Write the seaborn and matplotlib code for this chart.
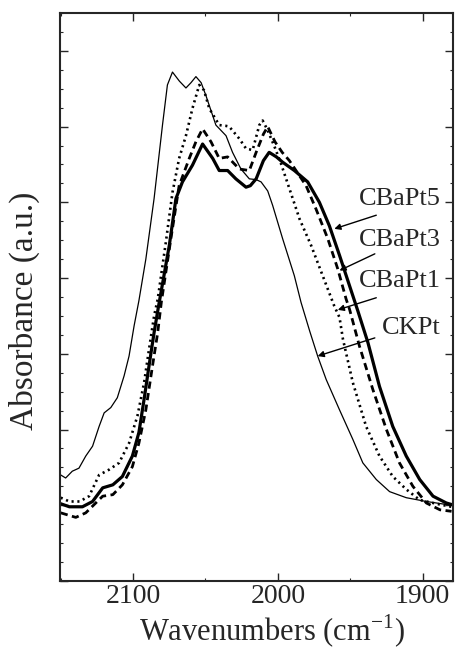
import numpy as np
import pandas as pd
import matplotlib
matplotlib.use("Agg")
import matplotlib.pyplot as plt
from matplotlib.ticker import MultipleLocator, NullFormatter
import seaborn as sns

# CKPt (thin solid)
ckpt_wn = [2150, 2146.6, 2142, 2137.4, 2132.7, 2128, 2123.5, 2120, 2115.4, 2110.9,
           2106.2, 2102.8, 2099.3, 2096, 2091.2, 2085.5, 2079.7, 2076.3, 2072.8, 2068,
           2063.5, 2060, 2056.6, 2053, 2049.7, 2042.8, 2035.8, 2031.3, 2025.5, 2019.7,
           2015, 2011.6, 2007, 2003.6, 1996.7, 1988.6, 1984, 1978, 1972.5, 1966.6,
           1957.4, 1948.2, 1941.3, 1932, 1922.8, 1911.3, 1897.4, 1880]
ckpt_abs = [1.40, 1.36, 1.45, 1.49, 1.65, 1.78, 2.04, 2.22, 2.29, 2.42,
            2.71, 2.97, 3.37, 3.70, 4.25, 5.05, 6.02, 6.55, 6.72, 6.60,
            6.51, 6.58, 6.66, 6.58, 6.41, 6.02, 5.88, 5.66, 5.44, 5.31,
            5.30, 5.27, 5.15, 4.96, 4.52, 4.03, 3.68, 3.30, 2.97, 2.66,
            2.26, 1.87, 1.56, 1.34, 1.18, 1.10, 1.05, 1.00]

# CBaPt1 (dotted)
bapt1_wn = [2150, 2144, 2137, 2130.4, 2123.5, 2116.6, 2109.7, 2102.8, 2097, 2092.4,
            2089, 2085.5, 2083, 2077.4, 2072.8, 2068.2, 2063.5, 2059, 2054.3, 2051,
            2047.4, 2040.5, 2036, 2033.6, 2026.6, 2022, 2017.4, 2012.8, 2010.5, 2007,
            2002, 1997.8, 1992, 1985, 1977, 1969, 1961, 1957.4, 1955, 1948.2,
            1939, 1929.8, 1920.6, 1911.3, 1902, 1888, 1880]
bapt1_abs = [1.10, 1.05, 1.05, 1.12, 1.40, 1.47, 1.56, 1.82, 2.18, 2.62,
             3.06, 3.50, 3.72, 4.47, 5.13, 5.58, 5.88, 6.24, 6.55, 6.48,
             6.24, 6.02, 6.01, 6.00, 5.84, 5.71, 5.69, 6.02, 6.08, 5.95,
             5.72, 5.51, 5.18, 4.78, 4.43, 4.03, 3.63, 3.48, 3.19, 2.62,
             2.04, 1.65, 1.38, 1.21, 1.07, 1.01, 0.98]

# CBaPt3 (dashed)
bapt3_wn = [2150, 2139.6, 2132.7, 2125.8, 2121, 2114, 2107.4, 2100.5, 2096, 2091.2,
            2086.6, 2083, 2080.5, 2073.9, 2068.2, 2061.2, 2056.6, 2052, 2046.2, 2040.5,
            2034.7, 2026.6, 2019.7, 2015, 2010, 2007, 2002, 1997, 1992, 1980.5,
            1973.6, 1965.5, 1958.6, 1952.8, 1950.5, 1943.6, 1934.4, 1925, 1916, 1906.7,
            1897.4, 1888, 1880]
bapt3_abs = [0.90, 0.84, 0.90, 1.03, 1.12, 1.14, 1.27, 1.51, 1.82, 2.26,
             2.84, 3.28, 3.68, 4.52, 5.22, 5.58, 5.80, 5.97, 5.80, 5.58,
             5.60, 5.44, 5.42, 5.66, 5.90, 6.00, 5.80, 5.66, 5.55, 5.22,
             4.91, 4.52, 4.12, 3.72, 3.59, 3.10, 2.53, 2.00, 1.56, 1.25,
             1.03, 0.94, 0.92]

# CBaPt5 (thick solid)
bapt5_wn = [2150, 2144, 2135, 2128, 2121, 2114, 2107.4, 2100.5, 2096, 2092.4,
            2089, 2085.5, 2082.5, 2075, 2070.4, 2065.9, 2059, 2052, 2045, 2040.5,
            2034.7, 2029, 2022, 2019, 2015, 2010, 2006, 2001, 1996.7, 1988.6,
            1979.4, 1971.3, 1964.4, 1957.4, 1950.5, 1944.8, 1937.8, 1929.8, 1920.6, 1911.3,
            1902, 1892.8, 1883.6, 1880]
bapt5_abs = [1.02, 0.98, 0.98, 1.05, 1.23, 1.27, 1.38, 1.65, 1.96, 2.40,
             2.84, 3.28, 3.62, 4.43, 5.05, 5.27, 5.49, 5.77, 5.58, 5.42,
             5.42, 5.31, 5.20, 5.22, 5.31, 5.55, 5.66, 5.60, 5.53, 5.42,
             5.27, 5.00, 4.69, 4.30, 3.90, 3.57, 3.15, 2.57, 2.04, 1.65,
             1.34, 1.12, 1.03, 1.01]

labels = ["CBaPt5", "CBaPt3", "CBaPt1", "CKPt"]
label_y = [5.05, 4.50, 3.96, 3.34]

sns.set_style("ticks")
plt.rcParams["font.family"] = ["Liberation Serif", "DejaVu Serif"]
plt.rcParams["mathtext.fontset"] = "custom"
plt.rcParams["mathtext.rm"] = "Liberation Serif"

fig = plt.figure(figsize=(4.55, 6.5), dpi=100)
ax = fig.add_axes([60 / 455, 1 - 581 / 650, 393 / 455, 568 / 650])

sns.lineplot(x=ckpt_wn, y=ckpt_abs, ax=ax, color="black", lw=0.9, sort=False)
sns.lineplot(x=bapt1_wn, y=bapt1_abs, ax=ax, color="black", lw=1.9,
             linestyle=(0, (0.8, 1.4)), sort=False)
sns.lineplot(x=bapt3_wn, y=bapt3_abs, ax=ax, color="black", lw=2.0,
             linestyle=(0, (2.6, 1.6)), sort=False)
sns.lineplot(x=bapt5_wn, y=bapt5_abs, ax=ax, color="black", lw=2.3, sort=False)

ax.set_xlim(2150.5, 1879)
ax.set_ylim(0, 7.5)

# labels with arrows pointing to the curves
arrows = [((1932, 4.83), (1961, 4.65)),
          ((1933, 4.32), (1957.4, 4.10)),
          ((1932, 3.74), (1958.6, 3.58)),
          ((1933, 3.21), (1972.5, 2.97))]
for lab, ly, (tail, head) in zip(labels, label_y, arrows):
    ax.text(1887.5, ly, lab, ha="right", va="center", fontsize=19)
    ax.annotate("", xy=head, xytext=tail,
                arrowprops=dict(arrowstyle="-|>", color="black", lw=1.0,
                                mutation_scale=9, shrinkA=0, shrinkB=0))

ax.xaxis.set_major_locator(MultipleLocator(100))
ax.xaxis.set_minor_locator(MultipleLocator(50))
ax.yaxis.set_major_locator(MultipleLocator(1))
ax.yaxis.set_minor_locator(MultipleLocator(0.25))
ax.yaxis.set_major_formatter(NullFormatter())
ax.tick_params(which="major", direction="in", length=6, width=1.0,
               top=True, right=True, labelsize=20, pad=2)
ax.tick_params(which="minor", direction="in", length=2.5, width=0.8,
               top=True, right=True)
for s in ax.spines.values():
    s.set_linewidth(1.5)

ax.set_xlabel("Wavenumbers (cm$^{\\mathregular{-1}}$)", fontsize=22)
ax.set_ylabel("Absorbance (a.u.)", fontsize=24)
ax.xaxis.set_label_coords(0.54, -0.056)
ax.yaxis.set_label_coords(-0.05, 0.475)

fig.savefig("out.png", dpi=100)
